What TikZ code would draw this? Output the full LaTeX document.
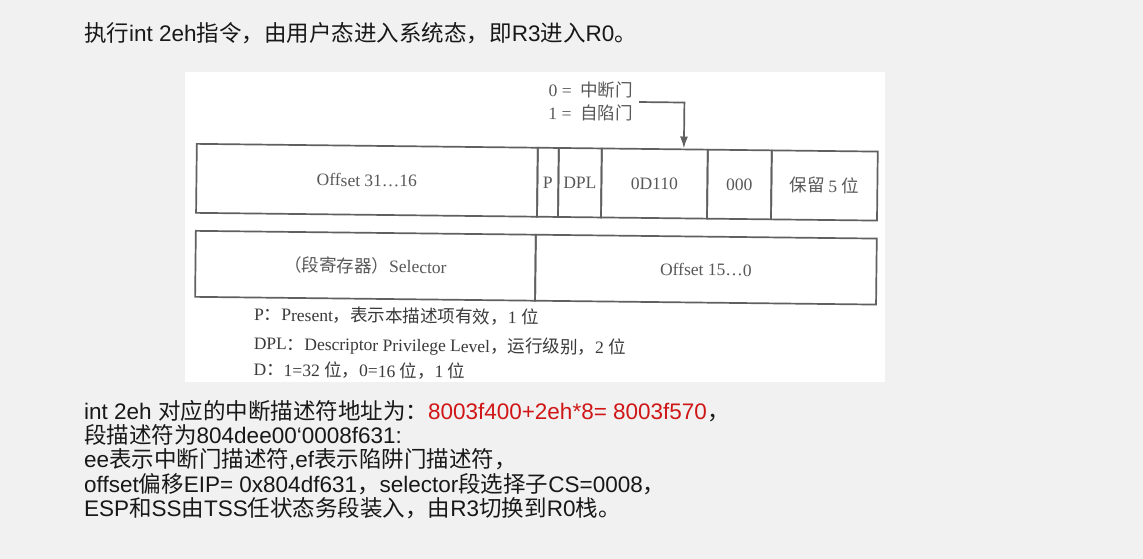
\documentclass[tikz,border=0pt]{standalone}
\usepackage{fontspec}
\setmainfont{Liberation Serif}
\setsansfont{Liberation Sans}
\newfontfamily\cjkfont{Noto Sans CJK SC}
\font\gravefont="Liberation Sans" at 22.5pt
\usetikzlibrary{arrows.meta}

% Ideographs and full-width punctuation are set in the CJK face,
% everything else in the current Latin family (\latinfam).
\newcommand\latinfam{\sffamily}
\XeTeXinterchartokenstate=1
\newXeTeXintercharclass\cjkclass
\newcount\cjkcp
\newcommand\setcjkrange[2]{%
  \cjkcp=#1\relax
  \loop
    \XeTeXcharclass\cjkcp=\cjkclass
    \ifnum\cjkcp<#2\relax
    \advance\cjkcp by 1
  \repeat}
\setcjkrange{"3000}{"303F}
\setcjkrange{"4E00}{"9FFF}
\setcjkrange{"FF00}{"FFEF}
\XeTeXinterchartoks 0 \cjkclass = {\cjkfont}
\XeTeXinterchartoks 4095 \cjkclass = {\cjkfont}
\XeTeXinterchartoks \cjkclass 0 = {\latinfam}
\XeTeXinterchartoks 4095 0 = {\latinfam}

\definecolor{slidebg}{RGB}{241,241,241}
\definecolor{textblack}{RGB}{24,24,24}
\definecolor{addrred}{RGB}{208,22,22}
\definecolor{linegray}{RGB}{96,96,96}
\definecolor{cellgray}{RGB}{88,88,88}
\definecolor{notegray}{RGB}{58,58,58}

\newcommand\scanfont{\rmfamily\def\latinfam{\rmfamily}}

\tikzset{
  slidetext/.style={anchor=base west, inner sep=0pt, text=textblack,
    font=\sffamily\fontsize{22.5}{24}\selectfont},
  cell/.style={draw=linegray, line width=1.7pt, anchor=north west,
    inner sep=0pt, minimum height=69pt, text=cellgray,
    font={\scanfont\fontsize{17.5}{19}\selectfont}},
  cellb/.style={cell, minimum height=66pt},
  notetext/.style={anchor=base west, inner sep=0pt, text=notegray,
    font={\scanfont\fontsize{17.5}{19}\selectfont}},
  gatearrow/.style={draw=linegray, line width=1.7pt,
    -{Latex[length=12pt,width=8pt]}},
}

\begin{document}
\begin{tikzpicture}[x=1pt,y=-1pt]
\useasboundingbox (0,0) rectangle (1143,559);
\fill[slidebg] (0,0) rectangle (1143,559);

% heading
\node[slidetext] (title) at (84,42)
  {执行int 2eh指令，由用户态进入系统态，即R3进入R0。};

% scanned gate descriptor figure
\fill[white] (185,72) rectangle (885,382);
\begin{scope}[rotate around={-0.65:(196,143)}, transform shape]
  % high dword
  \node[cell, minimum width=341pt] (offhi) at (196,143) {Offset 31…16};
  \node[cell, minimum width=21pt]  (pbit)  at (537,143) {P};
  \node[cell, minimum width=43pt]  (dpl)   at (558,143) {DPL};
  \node[cell, minimum width=106pt] (gtype) at (601,143) {0D110};
  \node[cell, minimum width=64pt]  (zeros) at (707,143) {000};
  \node[cell, minimum width=106pt] (resv)  at (771,143) {保留 5 位};
  % low dword
  \node[cellb, minimum width=340pt] (selector) at (196,230) {（段寄存器）Selector};
  \node[cellb, minimum width=341pt] (offlo)    at (536,230) {Offset 15…0};

  % gate type callout
  \node[notetext, anchor=west, align=left, text=cellgray,
        font={\scanfont\fontsize{17.5}{23}\selectfont}]
    (gatelbl) at (548,97) {0 = \ 中断门\\1 = \ 自陷门};
  \coordinate (gatetip) at (684,143);
  \draw[gatearrow] ([xshift=6pt]gatelbl.east) -| (gatetip);

  % field notes
  \node[notetext] (notep)   at (256,320) {P：Present，表示本描述项有效，1 位};
  \node[notetext] (notedpl) at (256,349) {DPL：Descriptor Privilege Level，运行级别，2 位};
  \node[notetext] (noted)   at (256,375) {D：1=32 位，0=16 位，1 位};
\end{scope}

% explanation
\node[slidetext] (line1) at (84,419)
  {int 2eh 对应的中断描述符地址为：\textcolor{addrred}{8003f400+2eh*8= 8003f570}，};
\node[slidetext] (line2) at (84,443)
  {段描述符为804dee00{\gravefont\char96}0008f631:};
\node[slidetext] (line3) at (84,467)
  {ee表示中断门描述符,ef表示陷阱门描述符，};
\node[slidetext] (line4) at (84,492)
  {offset偏移EIP= 0x804df631，selector段选择子CS=0008，};
\node[slidetext] (line5) at (84,516)
  {ESP和SS由TSS任状态务段装入，由R3切换到R0栈。};
\end{tikzpicture}
\end{document}
